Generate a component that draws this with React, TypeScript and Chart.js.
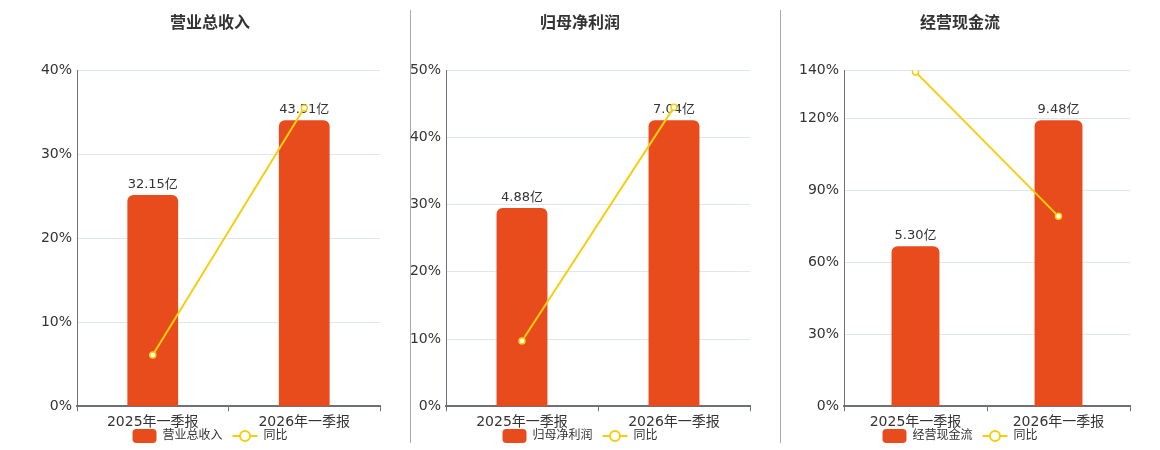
import React from 'react'
import { Chart, registerables } from 'chart.js'

Chart.register(...registerables)

const categories = ['2025年一季报', '2026年一季报']

const revenue = [32.15, 43.51]
const revenueYoy = [6.1, 35.5]
const revenueTicks = [0, 10, 20, 30, 40]

const profit = [4.88, 7.04]
const profitYoy = [9.7, 44.5]
const profitTicks = [0, 10, 20, 30, 40, 50]

const cashFlow = [5.3, 9.48]
const cashFlowYoy = [139.3, 79.1]
const cashFlowTicks = [0, 30, 60, 90, 120, 140]

const BAR_COLOR = '#e84c1c'
const LINE_COLOR = '#f3cf10'
const TEXT_COLOR = '#333'
const FONT = '"DejaVu Sans", "Noto Sans CJK SC", sans-serif'

Chart.defaults.font.family = FONT
Chart.defaults.color = TEXT_COLOR

if (typeof document !== 'undefined') document.body.style.margin = '0'

const barLabels = {
  id: 'barLabels',
  afterDatasetDraw(chart: any, args: any) {
    if (args.meta.type !== 'bar') return
    const ctx = chart.ctx
    ctx.save()
    ctx.font = '13px ' + FONT
    ctx.fillStyle = TEXT_COLOR
    ctx.textAlign = 'center'
    ctx.textBaseline = 'alphabetic'
    args.meta.data.forEach((el: any, i: number) => {
      const v = chart.data.datasets[args.index].data[i]
      ctx.fillText(v.toFixed(2) + '亿', el.x, el.y - 7)
    })
    ctx.restore()
  },
}

// legend drawn by hand so it can sit close under the axis labels
const bottomLegend = {
  id: 'bottomLegend',
  afterDraw(chart: any) {
    const ctx = chart.ctx
    const sets = chart.data.datasets
    ctx.save()
    ctx.font = '12px ' + FONT
    const w0 = ctx.measureText(sets[0].label).width
    const w1 = ctx.measureText(sets[1].label).width
    const total = 24 + 6 + w0 + 10 + 25 + 6 + w1
    const cx = (chart.width - 30) / 2
    let x = cx - total / 2
    const y = 436

    ctx.fillStyle = BAR_COLOR
    ctx.beginPath()
    ctx.roundRect(x, y - 7, 24, 14, 4)
    ctx.fill()
    x += 30
    ctx.fillStyle = TEXT_COLOR
    ctx.textBaseline = 'middle'
    ctx.textAlign = 'left'
    ctx.fillText(sets[0].label, x, y)
    x += w0 + 10

    ctx.strokeStyle = LINE_COLOR
    ctx.lineWidth = 2
    ctx.beginPath()
    ctx.moveTo(x, y)
    ctx.lineTo(x + 25, y)
    ctx.stroke()
    ctx.beginPath()
    ctx.arc(x + 12.5, y, 5, 0, Math.PI * 2)
    ctx.fillStyle = '#fff'
    ctx.fill()
    ctx.stroke()
    x += 31
    ctx.fillStyle = TEXT_COLOR
    ctx.fillText(sets[1].label, x, y)
    ctx.restore()
  },
}

interface PanelProps {
  title: string
  name: string
  values: number[]
  yoy: number[]
  ticks: number[]
  axisWidth: number
  left: number
}

const Panel = ({ title, name, values, yoy, ticks, axisWidth, left }: PanelProps) => {
  const ref = React.useRef<HTMLCanvasElement | null>(null)

  React.useEffect(() => {
    if (!ref.current) return
    const chart = new Chart(ref.current, {
      type: 'bar',
      data: {
        labels: categories,
        datasets: [
          {
            type: 'bar',
            label: name,
            data: values,
            yAxisID: 'yBar',
            backgroundColor: BAR_COLOR,
            borderRadius: { topLeft: 6, topRight: 6, bottomLeft: 0, bottomRight: 0 },
            borderSkipped: false,
            categoryPercentage: 1,
            barPercentage: 0.335,
            order: 1,
          },
          {
            type: 'line',
            label: '同比',
            data: yoy,
            yAxisID: 'y',
            borderColor: LINE_COLOR,
            borderWidth: 2,
            pointRadius: 3,
            pointBorderWidth: 1.5,
            pointBackgroundColor: '#fff',
            pointBorderColor: LINE_COLOR,
            order: 0,
          },
        ] as any,
      },
      options: {
        animation: false,
        responsive: false,
        layout: { padding: { top: 0, right: 30, bottom: 16, left: 0 } },
        plugins: {
          legend: { display: false },
          tooltip: { enabled: false },
          title: {
            display: true,
            text: title,
            color: TEXT_COLOR,
            font: { size: 16, weight: 'bold' },
            padding: { top: 14, bottom: 37 },
          },
        },
        scales: {
          x: {
            grid: {
              offset: true,
              drawOnChartArea: false,
              tickLength: 5,
              color: '#6e7079',
            },
            border: { color: '#6e7079', width: 2 },
            ticks: { font: { size: 14 }, color: TEXT_COLOR, padding: 3 },
          },
          y: {
            position: 'left',
            min: ticks[0],
            max: ticks[ticks.length - 1],
            afterBuildTicks: (scale: any) => {
              scale.ticks = ticks.map((v) => ({ value: v }))
            },
            afterFit: (scale: any) => {
              scale.width = axisWidth
            },
            grid: { color: '#e0e6f1', drawTicks: false },
            border: { color: '#6e7079', width: 1 },
            ticks: {
              font: { size: 14 },
              color: TEXT_COLOR,
              padding: 5,
              callback: (v: any) => v + '%',
            },
          },
          yBar: {
            display: false,
            min: 0,
            max: Math.max(...values) * 1.175,
          },
        },
      },
      plugins: [barLabels, bottomLegend],
    })
    return () => chart.destroy()
  }, [])

  return (
    <div style={{ position: 'absolute', left, top: 0, width: 370, height: 450 }}>
      <canvas ref={ref} width={370} height={450} style={{ width: 370, height: 450 }} />
    </div>
  )
}

const Divider = ({ left }: { left: number }) => (
  <div style={{ position: 'absolute', left, top: 10, width: 1, height: 433, background: '#aaa' }} />
)

const App = () => {
  return (
    <div style={{ position: 'relative', width: 1160, height: 450, background: '#fff' }}>
      <Divider left={410} />
      <Divider left={780} />
      <Panel title="营业总收入" name="营业总收入" values={revenue} yoy={revenueYoy} ticks={revenueTicks} axisWidth={37} left={40} />
      <Panel title="归母净利润" name="归母净利润" values={profit} yoy={profitYoy} ticks={profitTicks} axisWidth={36} left={410} />
      <Panel title="经营现金流" name="经营现金流" values={cashFlow} yoy={cashFlowYoy} ticks={cashFlowTicks} axisWidth={54} left={790} />
    </div>
  )
}

export default App
